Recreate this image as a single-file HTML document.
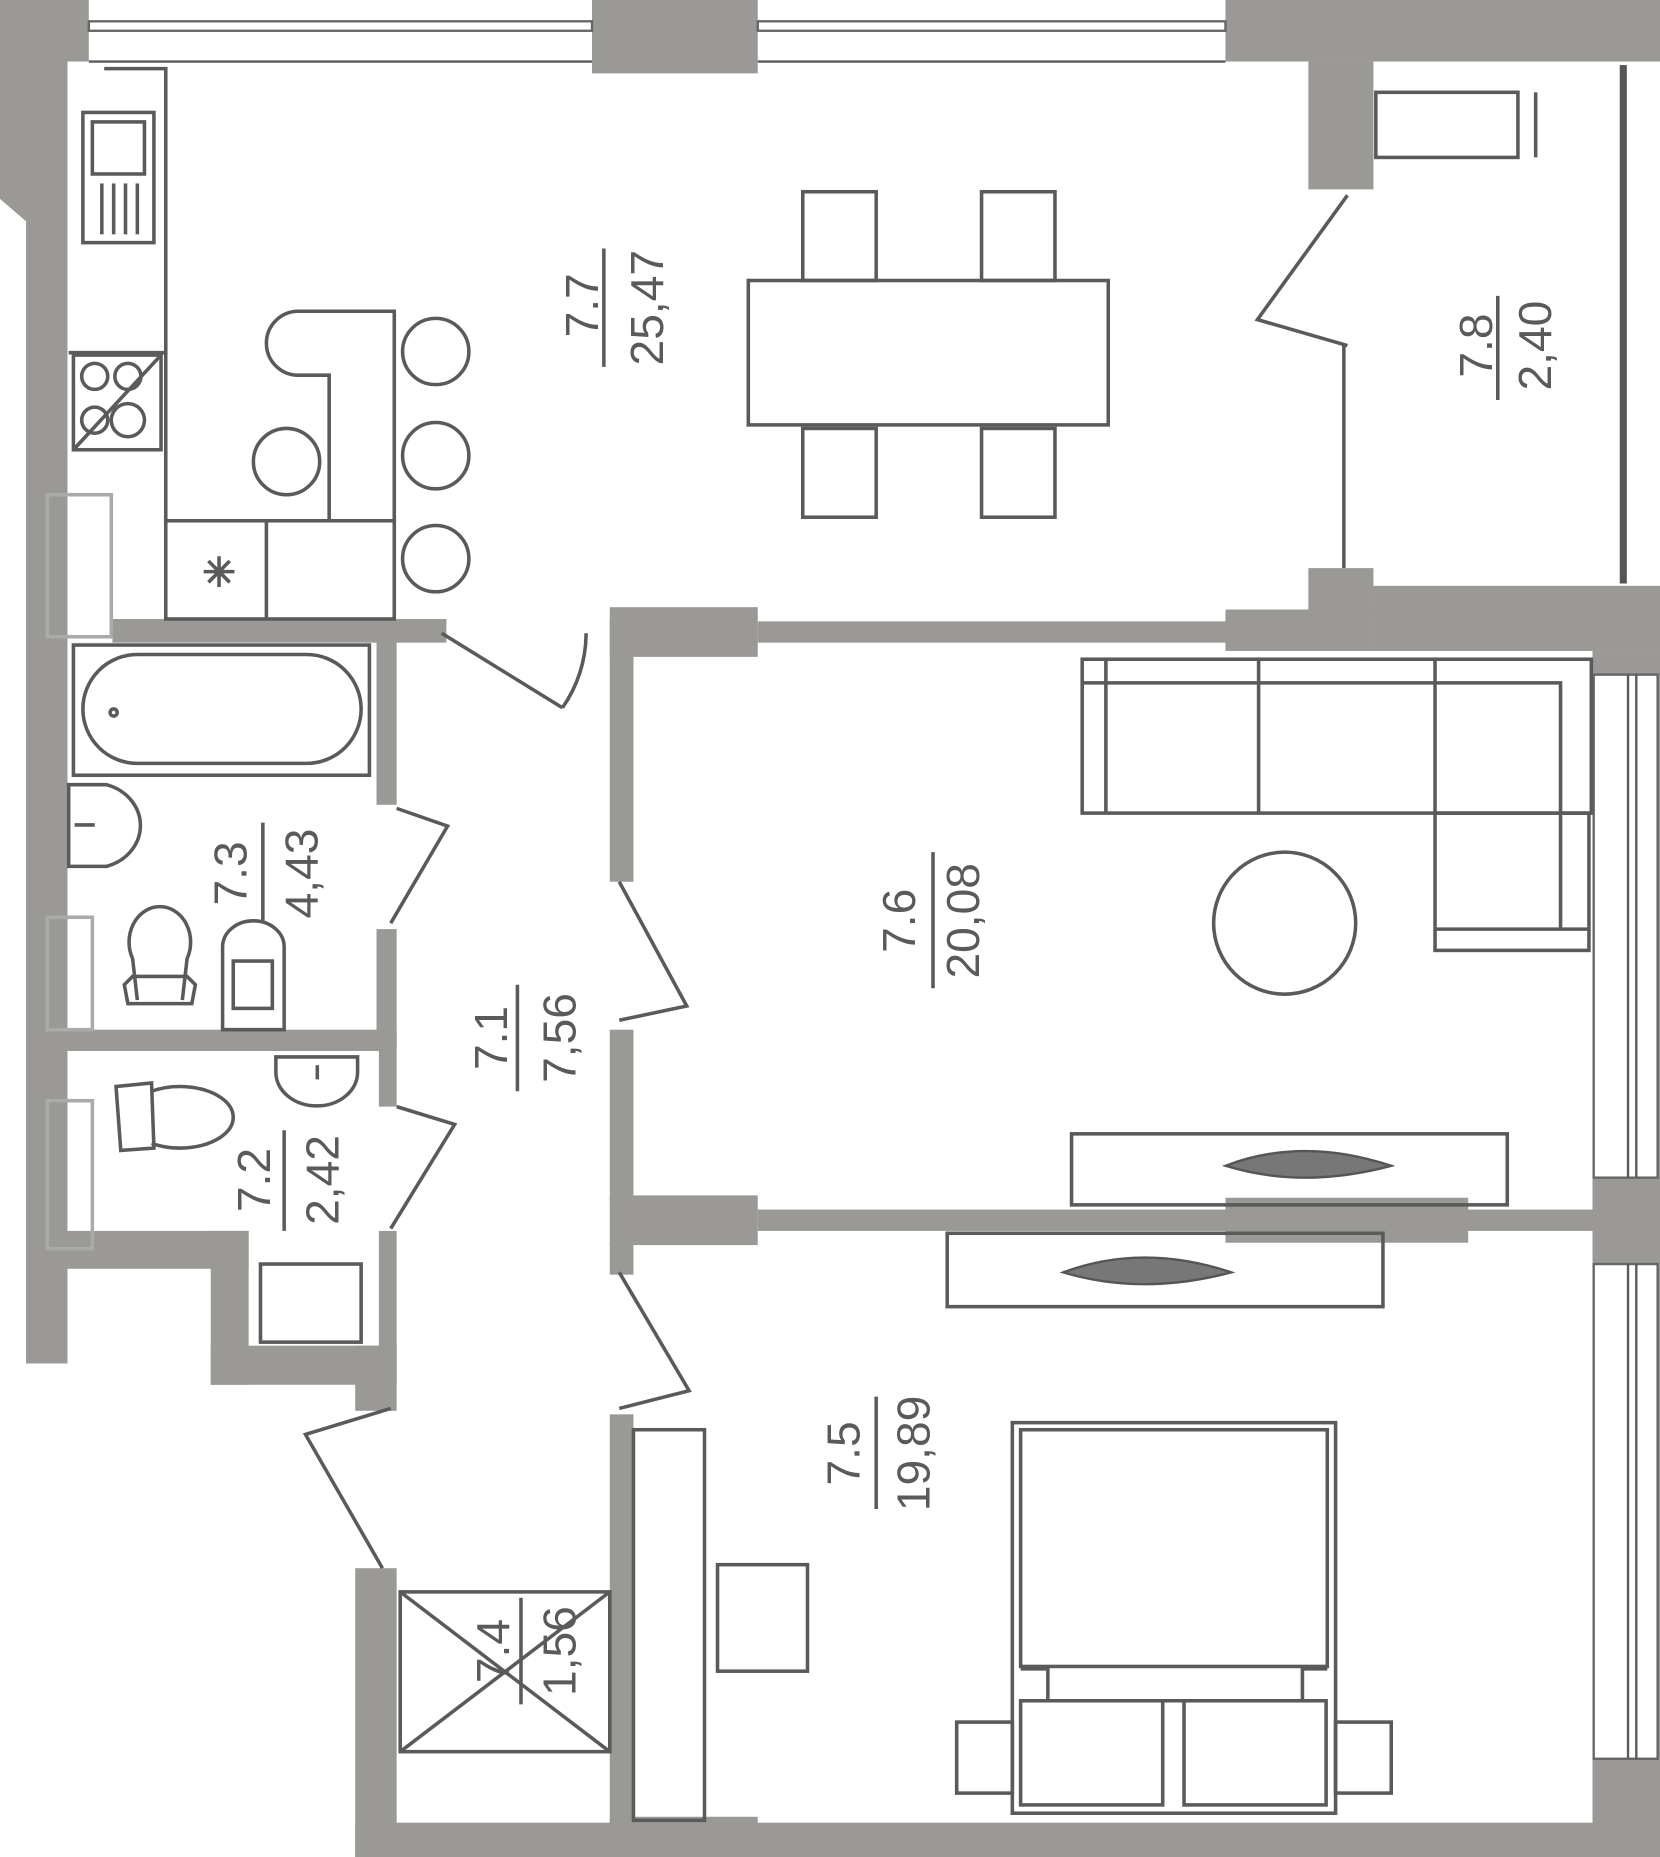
<!DOCTYPE html>
<html><head><meta charset="utf-8"><style>
html,body{margin:0;padding:0;background:#fff}
svg{display:block}
text{font-family:"Liberation Sans",sans-serif;fill:#5a5a5a;font-size:39px}
</style></head><body>
<svg width="1660" height="1857" viewBox="0 0 1402 1569" preserveAspectRatio="none" xmlns="http://www.w3.org/2000/svg">
<g fill="#9a9995" stroke="none">
<rect x="0" y="0" width="75" height="52"/>
<polygon points="0,0 57,0 57,1152 22,1152 22,187 0,168"/>
<rect x="500" y="0" width="140" height="62"/>
<rect x="1035" y="0" width="367" height="52"/>
<rect x="1105" y="52" width="55" height="108"/>
<rect x="57" y="523" width="320" height="20"/>
<rect x="57" y="523" width="38" height="20" fill="#fff"/>
<rect x="318" y="540" width="17" height="140"/>
<rect x="318" y="785" width="17" height="100"/>
<rect x="57" y="870" width="278" height="18"/>
<rect x="320" y="888" width="15" height="47"/>
<rect x="320" y="1040" width="15" height="100"/>
<rect x="57" y="1040" width="153" height="32"/>
<rect x="178" y="1040" width="32" height="130"/>
<rect x="178" y="1137" width="157" height="33"/>
<rect x="300" y="1137" width="35" height="55"/>
<rect x="515" y="513" width="125" height="42"/>
<rect x="515" y="523" width="20" height="222"/>
<rect x="515" y="870" width="20" height="145"/>
<rect x="515" y="1010" width="125" height="42"/>
<rect x="515" y="1050" width="20" height="27"/>
<rect x="515" y="1195" width="20" height="350"/>
<rect x="640" y="525" width="400" height="18"/>
<rect x="1035" y="515" width="125" height="35"/>
<rect x="1105" y="480" width="55" height="40"/>
<rect x="1160" y="495" width="242" height="55"/>
<rect x="1345" y="550" width="57" height="1019"/>
<rect x="640" y="1022" width="705" height="18"/>
<rect x="1035" y="1012" width="205" height="38"/>
<rect x="300" y="1325" width="35" height="244"/>
<rect x="300" y="1540" width="1102" height="29"/>
<rect x="515" y="1535" width="125" height="34"/>
</g>
<!-- windows -->
<g fill="#fff" stroke="#666" stroke-width="2">
<rect x="75" y="18" width="425" height="8"/>
<rect x="640" y="18" width="395" height="8"/>
<rect x="1346" y="570" width="54" height="425"/>
<rect x="1346" y="1068" width="54" height="418"/>
</g>
<g fill="none" stroke="#5a5a5a" stroke-width="2">
<line x1="75" y1="52" x2="500" y2="52"/>
<line x1="640" y1="52" x2="1035" y2="52"/>
<line x1="1375" y1="570" x2="1375" y2="995"/><line x1="1382" y1="570" x2="1382" y2="995"/>
<line x1="1375" y1="1068" x2="1375" y2="1486"/><line x1="1382" y1="1068" x2="1382" y2="1486"/>
</g>
<rect x="1368" y="55" width="6" height="438" fill="#555"/>
<g fill="none" stroke="#5a5a5a" stroke-width="3">
<polyline points="88,58 140,58 140,440"/>
<rect x="70" y="95" width="60" height="110"/>
<rect x="78" y="103" width="44" height="44"/>
<line x1="86" y1="155" x2="86" y2="198"/><line x1="96" y1="155" x2="96" y2="198"/><line x1="106" y1="155" x2="106" y2="198"/><line x1="116" y1="155" x2="116" y2="198"/>
<line x1="58" y1="298" x2="140" y2="298"/>
<rect x="62" y="300" width="74" height="80"/>
<circle cx="80" cy="318" r="11"/><circle cx="108" cy="318" r="11"/><circle cx="80" cy="355" r="11"/><circle cx="108" cy="355" r="14"/>
<line x1="62" y1="380" x2="136" y2="300"/>
<path d="M263,263 L333,263 L333,440 L278,440 L278,317 L252,317 A27,27 0 0 1 252,263 Z"/>
<circle cx="368" cy="297" r="28"/><circle cx="368" cy="385" r="28"/><circle cx="368" cy="472" r="28"/>
<circle cx="242" cy="390" r="28"/>
<rect x="140" y="440" width="193" height="83"/>
<line x1="225" y1="440" x2="225" y2="523"/>
<line x1="172" y1="483" x2="198" y2="483"/><line x1="185" y1="470" x2="185" y2="496"/><line x1="176" y1="474" x2="194" y2="492"/><line x1="194" y1="474" x2="176" y2="492"/>
<rect x="632" y="237" width="304" height="122"/>
<rect x="678" y="162" width="62" height="75"/><rect x="829" y="162" width="62" height="75"/>
<rect x="678" y="362" width="62" height="75"/><rect x="829" y="362" width="62" height="75"/>
<rect x="1162" y="78" width="120" height="55"/><line x1="1297" y1="78" x2="1297" y2="133"/>
<polyline points="1138,165 1062,270 1138,292"/>
<line x1="1135" y1="292" x2="1135" y2="480"/>
<polyline points="373,535 475,598"/>
<path d="M475,598 A110,110 0 0 0 495,535"/>
<rect x="62" y="545" width="250" height="110"/>
<rect x="70" y="553" width="235" height="92" rx="46"/>
<circle cx="96" cy="602" r="3"/>
<path d="M58,663 L90,663 A40,36 0 0 1 90,732 L58,732 Z"/>
<line x1="63" y1="697" x2="80" y2="697"/>
<rect x="40" y="775" width="38" height="95" stroke="#aaa"/>
<rect x="40" y="930" width="38" height="125" stroke="#aaa"/>
<rect x="40" y="418" width="54" height="120" stroke="#aaa"/>
<path d="M116,845 L112,810 A26,30 0 1 1 158,810 L154,845"/>
<path d="M108,848 L162,848 L165,832 L158,825 L112,825 L105,832 Z"/>
<path d="M188,870 L188,800 A26,22 0 0 1 240,800 L240,870 Z"/><rect x="197" y="812" width="33" height="40"/>
<path d="M233,893 L302,893 L302,906 A34,28 0 0 1 233,906 Z"/><line x1="268" y1="900" x2="268" y2="912"/>
<path d="M128,922 A45,26 0 1 1 128,966"/><path d="M98,918 L128,915 L130,970 L102,972 Z"/>
<rect x="220" y="1068" width="85" height="66"/>
<polyline points="335,683 378,698 330,780"/>
<polyline points="335,935 384,950 330,1038"/>
<polyline points="523,745 580,850 523,862"/>
<polyline points="523,1075 582,1175 523,1190"/>
<polyline points="330,1190 258,1212 323,1325"/>
<rect x="338" y="1345" width="177" height="135"/>
<line x1="338" y1="1345" x2="515" y2="1480"/><line x1="515" y1="1345" x2="338" y2="1480"/>
<rect x="914" y="557" width="430" height="130"/>
<line x1="934" y1="557" x2="934" y2="687"/><line x1="1063" y1="557" x2="1063" y2="687"/><line x1="1212" y1="557" x2="1212" y2="687"/>
<polyline points="914,577 1318,577 1318,785"/>
<rect x="1212" y="687" width="130" height="116"/>
<line x1="1212" y1="785" x2="1342" y2="785"/>
<circle cx="1085" cy="780" r="60"/>
<rect x="905" y="958" width="368" height="60"/>
<rect x="800" y="1042" width="368" height="62"/>
<rect x="535" y="1208" width="60" height="330"/>
<rect x="606" y="1322" width="76" height="90"/>
<rect x="855" y="1202" width="273" height="330"/>
<rect x="862" y="1208" width="259" height="200"/>
<rect x="862" y="1437" width="120" height="88"/><rect x="1000" y="1437" width="120" height="88"/>
<rect x="808" y="1455" width="47" height="60"/><rect x="1128" y="1455" width="47" height="60"/>
<polyline points="862,1410 885,1410 885,1437 1100,1437 1100,1410 1121,1410"/>
</g>
<g fill="#777" stroke="#555" stroke-width="2">
<path d="M1035,985 Q1100,960 1175,985 Q1100,1005 1035,985Z"/>
<path d="M898,1075 Q965,1050 1040,1075 Q965,1095 898,1075Z"/>
</g>
<g stroke="#5a5a5a" stroke-width="3">
<line x1="510" y1="210" x2="510" y2="310"/>
<line x1="1265" y1="250" x2="1265" y2="338"/>
<line x1="222" y1="695" x2="222" y2="780"/>
<line x1="788" y1="720" x2="788" y2="835"/>
<line x1="437" y1="832" x2="437" y2="922"/>
<line x1="240" y1="955" x2="240" y2="1040"/>
<line x1="740" y1="1180" x2="740" y2="1275"/>
<line x1="440" y1="1350" x2="440" y2="1440"/>
</g>
<g text-anchor="middle">
<text transform="translate(505,258) rotate(-90)">7.7</text>
<text transform="translate(560,260) rotate(-90)">25,47</text>
<text transform="translate(1260,292) rotate(-90)">7.8</text>
<text transform="translate(1310,292) rotate(-90)">2,40</text>
<text transform="translate(208,738) rotate(-90)">7.3</text>
<text transform="translate(268,738) rotate(-90)">4,43</text>
<text transform="translate(773,778) rotate(-90)">7.6</text>
<text transform="translate(827,778) rotate(-90)">20,08</text>
<text transform="translate(428,877) rotate(-90)">7.1</text>
<text transform="translate(486,877) rotate(-90)">7,56</text>
<text transform="translate(228,997) rotate(-90)">7.2</text>
<text transform="translate(286,997) rotate(-90)">2,42</text>
<text transform="translate(726,1228) rotate(-90)">7.5</text>
<text transform="translate(785,1228) rotate(-90)">19,89</text>
<text transform="translate(430,1395) rotate(-90)">7.4</text>
<text transform="translate(486,1395) rotate(-90)">1,56</text>
</g>
</svg>
</body></html>
